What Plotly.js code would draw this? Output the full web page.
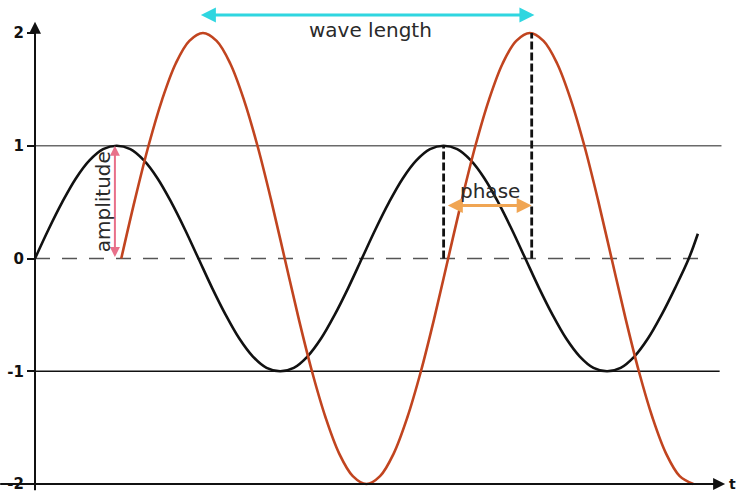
<!DOCTYPE html>
<html><head><meta charset="utf-8">
<script src="https://cdn.plot.ly/plotly-3.0.1.min.js"></script>
<style>html,body{margin:0;padding:0;background:#fff}#chart{width:740px;height:492px}</style>
</head><body><div id="chart"></div>
<script>
// Phase angle (degrees) and displacement
const blackX = [0,15,30,45,60,75,90,105,120,135,150,165,180,195,210,225,240,255,270,285,300,315,330,345,
                360,375,390,405,420,435,450,465,480,495,510,525,540,555,570,585,600,615,630,645,660,675,690,705,720,730];
const blackY = [0,0.26,0.5,0.71,0.87,0.97,1,0.97,0.87,0.71,0.5,0.26,0,-0.26,-0.5,-0.71,-0.87,-0.97,-1,-0.97,-0.87,-0.71,-0.5,-0.26,
                0,0.26,0.5,0.71,0.87,0.97,1,0.97,0.87,0.71,0.5,0.26,0,-0.26,-0.5,-0.71,-0.87,-0.97,-1,-0.97,-0.87,-0.71,-0.5,-0.26,0,0.22];
const redX = [95,110,125,140,155,170,185,200,215,230,245,260,275,290,305,320,335,350,365,380,395,410,425,440,
              455,470,485,500,515,530,545,560,575,590,605,620,635,650,665,680,695,710,725];
const redY = [0,0.52,1,1.41,1.73,1.93,2,1.93,1.73,1.41,1,0.52,0,-0.52,-1,-1.41,-1.73,-1.93,-2,-1.93,-1.73,-1.41,-1,-0.52,
              0,0.52,1,1.41,1.73,1.93,2,1.93,1.73,1.41,1,0.52,0,-0.52,-1,-1.41,-1.73,-1.93,-2];
const tickVals = [2,1,0,-1,-2];
const tickLabels = ['2','1','0','-1','-2'];
const labels = {wave:'wave length', amp:'amplitude', phase:'phase', t:'t'};

const FONT = 'DejaVu Sans, Liberation Sans, Arial, sans-serif';
const blackPeakX = blackX[30], redPeakX = redX[30], redPeak1X = redX[6];

const traces = [
  {x: blackX, y: blackY, mode:'lines', line:{color:'#111', width:2.6, shape:'spline', smoothing:1}, hoverinfo:'skip'},
  {x: redX, y: redY, mode:'lines', line:{color:'#c1441f', width:2.6, shape:'spline', smoothing:1}, hoverinfo:'skip'}
];

const shapes = [
  {type:'line', xref:'x', yref:'y', x0:0, x1:756, y0:1, y1:1, line:{color:'#6a6a6a', width:1.6}, layer:'below'},
  {type:'line', xref:'x', yref:'y', x0:0, x1:754, y0:-1, y1:-1, line:{color:'#111', width:1.6}, layer:'below'},
  {type:'line', xref:'x', yref:'y', x0:0, x1:743, y0:0, y1:0, line:{color:'#555', width:1.5, dash:'15px,12px'}, layer:'below'},
  {type:'line', xref:'x', yref:'y', x0:blackPeakX, x1:blackPeakX, y0:0, y1:1, line:{color:'#111', width:2.8, dash:'8px,3px'}},
  {type:'line', xref:'x', yref:'y', x0:redPeakX+2, x1:redPeakX+2, y0:0, y1:2, line:{color:'#111', width:2.8, dash:'8px,3px'}}
];

const annotations = [
  // y axis arrow
  {x:0, y:2.1, xref:'x', yref:'y', ax:0, ay:470, axref:'pixel', ayref:'pixel', text:'', showarrow:true, arrowhead:2, arrowsize:1.2, arrowwidth:2, arrowcolor:'#111', standoff:0},
  // x axis arrow
  {x:760, y:-2, xref:'x', yref:'y', ax:-40, ay:-2, axref:'x', ayref:'y', text:'', showarrow:true, arrowhead:2, arrowsize:1.2, arrowwidth:2, arrowcolor:'#111', standoff:0},
  {x:762, y:-2, xref:'x', yref:'y', text:'<b>'+labels.t+'</b>', showarrow:false, xanchor:'left', yanchor:'middle', font:{family:FONT, size:14, color:'#111'}},
  // wave length
  {x:redPeakX+5, y:2.16, xref:'x', yref:'y', ax:redPeak1X-4, ay:2.16, axref:'x', ayref:'y', text:'', showarrow:true, arrowside:'end+start', arrowhead:2, arrowsize:1, arrowwidth:3, arrowcolor:'#2fd6e0', standoff:0, startstandoff:0},
  {x:369, y:2.03, xref:'x', yref:'y', text:labels.wave, showarrow:false, font:{family:FONT, size:20, color:'#2a2a2a'}},
  // amplitude
  {x:88, y:1, xref:'x', yref:'y', ax:88, ay:0, axref:'x', ayref:'y', text:'', showarrow:true, arrowside:'end+start', arrowhead:2, arrowsize:1, arrowwidth:2, arrowcolor:'#e8708a', standoff:0, startstandoff:0},
  {x:75, y:0.5, xref:'x', yref:'y', text:labels.amp, textangle:-90, showarrow:false, font:{family:FONT, size:20, color:'#2a2a2a'}},
  // phase
  {x:redPeakX+2, y:0.47, xref:'x', yref:'y', ax:blackPeakX+3, ay:0.47, axref:'x', ayref:'y', text:'', showarrow:true, arrowside:'end+start', arrowhead:2, arrowsize:1, arrowwidth:3, arrowcolor:'#f0a553', standoff:0, startstandoff:0},
  {x:501, y:0.6, xref:'x', yref:'y', text:labels.phase, showarrow:false, font:{family:FONT, size:20, color:'#2a2a2a'}}
];

const layout = {
  width:740, height:492,
  margin:{l:35, r:0, t:0, b:0},
  paper_bgcolor:'#fff', plot_bgcolor:'#fff',
  showlegend:false,
  xaxis:{range:[0,776.4], showgrid:false, zeroline:false, showline:false, showticklabels:false, ticks:'', fixedrange:true},
  yaxis:{range:[-2.071,2.293], showgrid:false, zeroline:false, showline:false, automargin:false, ticklabeloverflow:'allow',
         tickvals:tickVals, ticktext:tickLabels.map(s=>'<b>'+s+'</b>'), ticks:'outside', ticklen:7, tickwidth:2, tickcolor:'#111',
         tickfont:{family:FONT, size:15, color:'#111'}, fixedrange:true},
  shapes:shapes, annotations:annotations
};

Plotly.newPlot('chart', traces, layout, {displayModeBar:false, staticPlot:true});
</script></body></html>
